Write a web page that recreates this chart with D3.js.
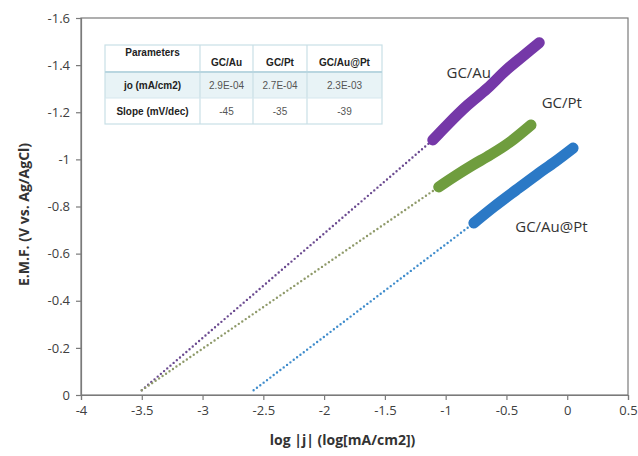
<!DOCTYPE html>
<html>
<head>
<meta charset="utf-8">
<script src="https://cdn.jsdelivr.net/npm/d3@7"></script>
<style>
  body { margin: 0; background: #fff; }
  svg { display: block; }
</style>
</head>
<body>
<script>
const auPoints = [[-1.106, -1.082], [-0.98, -1.15], [-0.82, -1.23], [-0.66, -1.30], [-0.5, -1.38], [-0.36, -1.44], [-0.23, -1.495]];
const ptPoints = [[-1.057, -0.883], [-0.92, -0.93], [-0.78, -0.975], [-0.63, -1.02], [-0.48, -1.07], [-0.298, -1.146]];
const auptPoints = [[-0.768, -0.73], [-0.6, -0.80], [-0.42, -0.87], [-0.25, -0.935], [-0.1, -0.99], [0.048, -1.048]];

// Tafel extrapolation lines (start at the x axis, end at first measured point)
const auFit = [[-3.5, -0.02], [-1.106, -1.082]];
const ptFit = [[-3.5, -0.02], [-1.057, -0.883]];
const auptFit = [[-2.58, -0.02], [-0.768, -0.73]];

const seriesNames = ["GC/Au", "GC/Pt", "GC/Au@Pt"];
const labelPos = [[-0.81, -1.345], [-0.045, -1.22], [-0.13, -0.69]];

const xTicks = [-4, -3.5, -3, -2.5, -2, -1.5, -1, -0.5, 0, 0.5];
const yTicks = [0, -0.2, -0.4, -0.6, -0.8, -1, -1.2, -1.4, -1.6];

const tableHead = ["Parameters", "GC/Au", "GC/Pt", "GC/Au@Pt"];
const tableRows = [
  ["jo (mA/cm2)", "2.9E-04", "2.7E-04", "2.3E-03"],
  ["Slope (mV/dec)", "-45", "-35", "-39"]
];

const W = 638, H = 456;
const margin = { top: 18, right: 10, bottom: 61, left: 81 };
const width = W - margin.left - margin.right;
const height = H - margin.top - margin.bottom;

const svg = d3.select("body").append("svg")
  .attr("width", W)
  .attr("height", H);

const g = svg.append("g")
  .attr("transform", "translate(" + margin.left + "," + margin.top + ")");

const x = d3.scaleLinear().domain([-4, 0.5]).range([0, width]);
const y = d3.scaleLinear().domain([0, -1.6]).range([height, 0]);

const axisColor = "#7a7a7a";
const font = "'Open Sans', 'Noto Sans', sans-serif";

// plot box
g.append("rect")
  .attr("x", 0).attr("y", 0)
  .attr("width", width).attr("height", height)
  .attr("fill", "none")
  .attr("stroke", axisColor)
  .attr("stroke-width", 1.2);

const xAxis = g.append("g")
  .attr("transform", "translate(0," + height + ")")
  .call(d3.axisBottom(x).tickValues(xTicks).tickSize(5).tickPadding(6).tickFormat(d => String(d)));
const yAxis = g.append("g")
  .call(d3.axisLeft(y).tickValues(yTicks).tickSize(5).tickPadding(6).tickFormat(d => String(d)));

[xAxis, yAxis].forEach(a => {
  a.select(".domain").attr("stroke", axisColor).attr("stroke-width", 1.2);
  a.selectAll(".tick line").attr("stroke", axisColor).attr("stroke-width", 1.2);
  a.selectAll(".tick text")
    .attr("fill", "#404040")
    .style("font-family", font)
    .style("font-size", "13px");
});

// axis titles
svg.append("text")
  .attr("x", margin.left + width / 2 - 12)
  .attr("y", 445)
  .attr("text-anchor", "middle")
  .style("font-family", font)
  .style("font-size", "14px")
  .style("font-weight", "bold")
  .attr("fill", "#333")
  .text("log |j| (log[mA/cm2])");

svg.append("text")
  .attr("transform", "translate(29," + (margin.top + height / 2 + 8) + ") rotate(-90)")
  .attr("text-anchor", "middle")
  .style("font-family", font)
  .style("font-size", "14px")
  .style("font-weight", "bold")
  .attr("fill", "#333")
  .text("E.M.F. (V vs. Ag/AgCl)");

const line = d3.line().x(d => x(d[0])).y(d => y(d[1])).curve(d3.curveCatmullRom);
const colors = ["#7538a8", "#6f9d3e", "#2b79c6"];
const dotColors = ["#6b4a90", "#8f9a6a", "#3f8ccc"];
const fits = [auFit, ptFit, auptFit];
const data = [auPoints, ptPoints, auptPoints];

fits.forEach((f, i) => {
  g.append("path")
    .datum(f)
    .attr("d", d3.line().x(d => x(d[0])).y(d => y(d[1])))
    .attr("fill", "none")
    .attr("stroke", dotColors[i])
    .attr("stroke-width", 2.4)
    .attr("stroke-linecap", "round")
    .attr("stroke-dasharray", "0 4.2");
});

data.forEach((d, i) => {
  g.append("path")
    .datum(d)
    .attr("d", line)
    .attr("fill", "none")
    .attr("stroke", colors[i])
    .attr("stroke-width", 11)
    .attr("stroke-linecap", "round")
    .attr("stroke-linejoin", "round");
});

g.selectAll(".slabel")
  .data(seriesNames)
  .enter().append("text")
  .attr("x", (d, i) => x(labelPos[i][0]))
  .attr("y", (d, i) => y(labelPos[i][1]))
  .attr("text-anchor", "middle")
  .style("font-family", font)
  .style("font-size", "15px")
  .attr("fill", "#333")
  .text(d => d);

// parameters table
const tbl = svg.append("g").attr("transform", "translate(105,45)");
const colX = [0, 95, 148, 202, 277];
const rowY = [0, 27, 53, 79];
const tFont = "'Liberation Sans', Arial, sans-serif";

tbl.append("rect")
  .attr("x", 0).attr("y", rowY[1])
  .attr("width", colX[4]).attr("height", rowY[2] - rowY[1])
  .attr("fill", "#e8f3f6");

tbl.append("rect")
  .attr("x", 0).attr("y", 0)
  .attr("width", colX[4]).attr("height", rowY[3])
  .attr("fill", "none")
  .attr("stroke", "#c9dfe6")
  .attr("stroke-width", 1.2);

colX.slice(1, 4).forEach(cx => {
  tbl.append("line")
    .attr("x1", cx).attr("x2", cx)
    .attr("y1", 0).attr("y2", rowY[3])
    .attr("stroke", "#c9dfe6").attr("stroke-width", 1.2);
});
rowY.slice(1, 3).forEach((ry, i) => {
  tbl.append("line")
    .attr("x1", 0).attr("x2", colX[4])
    .attr("y1", ry).attr("y2", ry)
    .attr("stroke", i == 0 ? "#b9d6e0" : "#d6e8ee").attr("stroke-width", i == 0 ? 2 : 1.2);
});

tableHead.forEach((h, j) => {
  tbl.append("text")
    .attr("x", (colX[j] + colX[j + 1]) / 2)
    .attr("y", j == 0 ? 11 : 21)
    .attr("text-anchor", "middle")
    .style("font-family", tFont)
    .style("font-size", "10px")
    .style("font-weight", "bold")
    .attr("fill", "#222")
    .text(h);
});

tableRows.forEach((r, i) => {
  r.forEach((c, j) => {
    tbl.append("text")
      .attr("x", (colX[j] + colX[j + 1]) / 2)
      .attr("y", (rowY[i + 1] + rowY[i + 2]) / 2 + 4)
      .attr("text-anchor", "middle")
      .style("font-family", tFont)
      .style("font-size", "10px")
      .style("font-weight", j == 0 ? "bold" : "normal")
      .attr("fill", j == 0 ? "#222" : "#555")
      .text(c);
  });
});
</script>
</body>
</html>
